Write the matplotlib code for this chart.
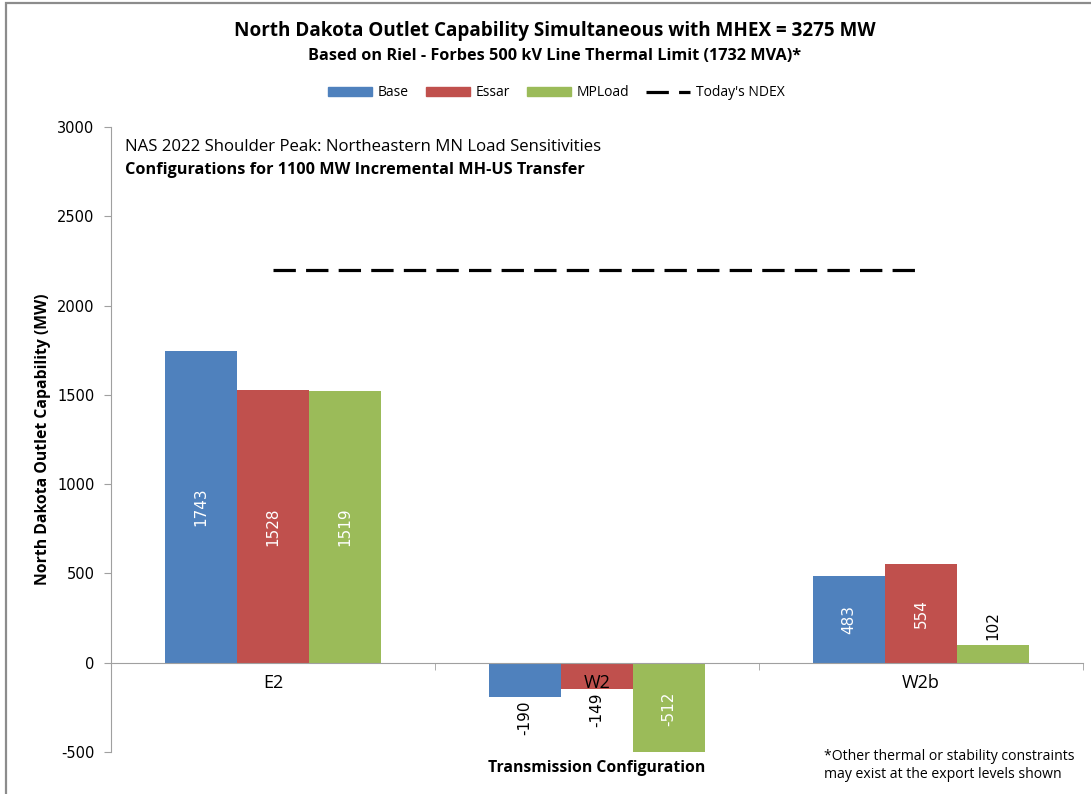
import matplotlib.pyplot as plt
from matplotlib.patches import Patch, Rectangle
from matplotlib.lines import Line2D
import numpy as np

configs = ["E2", "W2", "W2b"]
series = ["Base", "Essar", "MPLoad"]
base = [1743, -190, 483]
essar = [1528, -149, 554]
mpload = [1519, -512, 102]
ndex = 2200
colors = ["#4F81BD", "#C0504D", "#9BBB59"]
# label inside (white) or outside (black) for each bar
inside = [[True, False, True], [True, False, True], [True, True, False]]

plt.rcParams['font.family'] = ['Open Sans', 'DejaVu Sans']
plt.rcParams['axes.unicode_minus'] = False

fig = plt.figure(figsize=(10.91, 7.94), dpi=100)
ax = fig.add_axes([111 / 1091, 1 - 752 / 794, 972 / 1091, 625 / 794])

x = np.arange(len(configs))
w = 0.222
values = [base, essar, mpload]
for i, vals in enumerate(values):
    pos = x + (i - 1) * w
    bars = ax.bar(pos, vals, width=w, color=colors[i], zorder=2)
    for j, (b, v) in enumerate(zip(bars, vals)):
        cx = b.get_x() + b.get_width() / 2
        if inside[i][j]:
            ax.text(cx, v / 2, str(v), rotation=90, ha='center', va='center',
                    color='white', fontsize=11, family='DejaVu Sans', zorder=6)
        elif v < 0:
            ax.annotate(str(v), (cx, v), xytext=(0, -2.5), textcoords='offset points',
                        rotation=90, ha='center', va='top', fontsize=11,
                        family='DejaVu Sans', zorder=6)
        else:
            ax.annotate(str(v), (cx, v), xytext=(0, 3), textcoords='offset points',
                        rotation=90, ha='center', va='bottom', fontsize=11,
                        family='DejaVu Sans', zorder=6)

ax.plot([x[0], x[-1]], [ndex, ndex], color='black', lw=2.3, dashes=(7, 3.2),
        zorder=4)

ax.set_xlim(-0.5, 2.5)
ax.set_ylim(-500, 3000)
ax.set_yticks(range(-500, 3001, 500))
ax.tick_params(axis='y', labelsize=10.5, length=5, color='#A0A0A0', pad=7,
               labelfontfamily='DejaVu Sans')

ax.set_xticks(x, configs)
ax.set_xticks([-0.5, 0.5, 1.5, 2.5], minor=True)
ax.tick_params(axis='x', which='major', length=0, pad=8, labelsize=13)
ax.tick_params(axis='x', which='minor', length=5, color='#A0A0A0')
ax.xaxis.set_zorder(5)

ax.spines['top'].set_visible(False)
ax.spines['right'].set_visible(False)
ax.spines['bottom'].set_position(('data', 0))
ax.spines['bottom'].set_color('#A0A0A0')
ax.spines['left'].set_color('#A0A0A0')

ax.set_ylabel("North Dakota Outlet Capability (MW)", fontsize=11.3, fontweight='bold')
ax.yaxis.set_label_coords(-0.062, 0.5)
ax.set_xlabel("Transmission Configuration", fontsize=11.3, fontweight='bold')
ax.xaxis.set_label_coords(0.5, -0.013)

ax.text(0.0144, 0.968, "NAS 2022 Shoulder Peak: Northeastern MN Load Sensitivities",
        transform=ax.transAxes, fontsize=12.1, va='center')
ax.text(0.0144, 0.931, "Configurations for 1100 MW Incremental MH-US Transfer",
        transform=ax.transAxes, fontsize=11.7, fontweight='bold', va='center')

fig.text(0.5086, 1 - 31 / 794, "North Dakota Outlet Capability Simultaneous with MHEX = 3275 MW",
         ha='center', va='center', fontsize=13.6, fontweight='bold')
fig.text(0.5086, 1 - 56 / 794, "Based on Riel - Forbes 500 kV Line Thermal Limit (1732 MVA)*",
         ha='center', va='center', fontsize=11.7, fontweight='bold')

fig.text(824 / 1091, 1 - 757 / 794, "*Other thermal or stability constraints",
         ha='left', va='center', fontsize=10.1)
fig.text(824 / 1091, 1 - 775 / 794, "may exist at the export levels shown",
         ha='left', va='center', fontsize=10.1)

handles = [Patch(color=c) for c in colors]
handles.append(Line2D([0], [0], color='black', lw=2.3, dashes=(7, 3.2)))
fig.legend(handles, series + ["Today's NDEX"], loc='center',
           bbox_to_anchor=(0.51, 1 - 93 / 794), ncol=4, frameon=False,
           fontsize=10, handlelength=3.2, handleheight=0.6, columnspacing=1.2,
           handletextpad=0.4)

fig.patches.append(Rectangle((6 / 1091, -0.01), 1.0, 1 - 3 / 794 + 0.01,
                             transform=fig.transFigure, fill=False,
                             edgecolor='#8C8C8C', lw=1.6))

fig.savefig("out.png", dpi=100)
